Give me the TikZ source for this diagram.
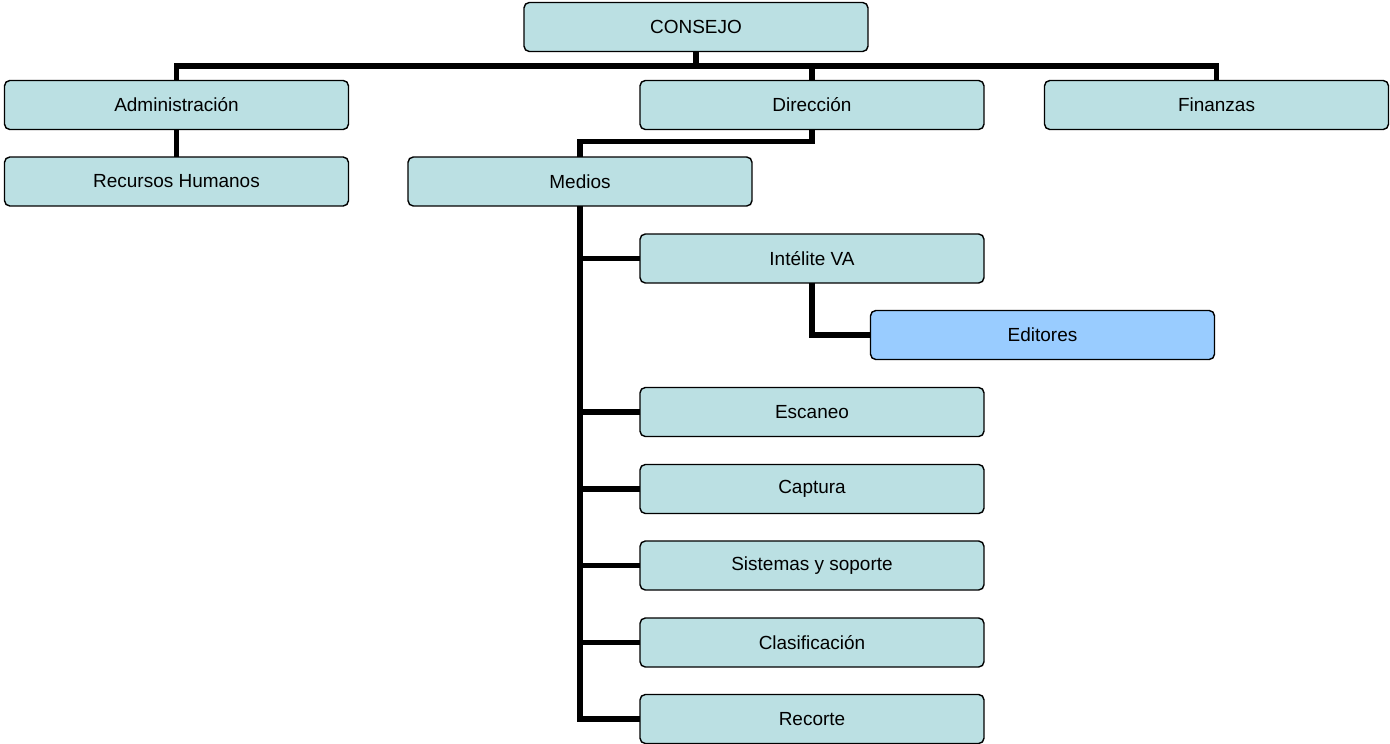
\documentclass[tikz,border=0pt]{standalone}
\usepackage{fontspec}
\setmainfont{Liberation Sans}
\definecolor{cajaazul}{HTML}{BBE0E3}
\definecolor{cajaedit}{HTML}{99CCFF}
\begin{document}
\begin{tikzpicture}
[x=0.02cm,y=-0.02cm,
 caja/.style={draw,line width=0.8pt,rounded corners=3pt,fill=cajaazul,
   minimum width=6.88cm,minimum height=0.98cm,inner sep=0pt,outer sep=0pt,
   font=\fontsize{10.8}{13}\selectfont},
 enlace/.style={line width=2.9pt}]
\useasboundingbox (0,0) rectangle (1390,744);

\node[caja] (consejo) at (696,27) {CONSEJO};
\node[caja] (admin) at (176.5,105) {Administración};
\node[caja] (direc) at (812,105) {Dirección};
\node[caja] (finan) at (1216.5,105) {Finanzas};
\node[caja] (rrhh) at (176.5,181.5) {Recursos Humanos};
\node[caja] (medios) at (580,181.5) {Medios};
\node[caja] (intel) at (812,258.5) {Intélite VA};
\node[caja,fill=cajaedit] (edit) at (1042.5,335) {Editores};
\node[caja] (escan) at (812,412) {Escaneo};
\node[caja] (captu) at (812,489) {Captura};
\node[caja] (siste) at (812,565.5) {Sistemas y soporte};
\node[caja] (clasi) at (812,642.5) {Clasificación};
\node[caja] (recor) at (812,719) {Recorte};

\coordinate (bus) at (696,66);
\draw[enlace] (consejo.south) -- (bus);
\draw[enlace] (admin.north) |- (bus) -| (finan.north);
\draw[enlace] (direc.north) -- (direc.north |- bus);
\draw[enlace] (admin.south) -- (rrhh.north);
\draw[enlace] (direc.south) -- ++(0,12) -| (medios.north);
\draw[enlace] (medios.south) |- (recor.west);
\foreach \hijo in {intel,escan,captu,siste,clasi}
  \draw[enlace] (\hijo.west) -- (\hijo.west -| medios.south);
\draw[enlace] (intel.south) |- (edit.west);
\end{tikzpicture}
\end{document}
